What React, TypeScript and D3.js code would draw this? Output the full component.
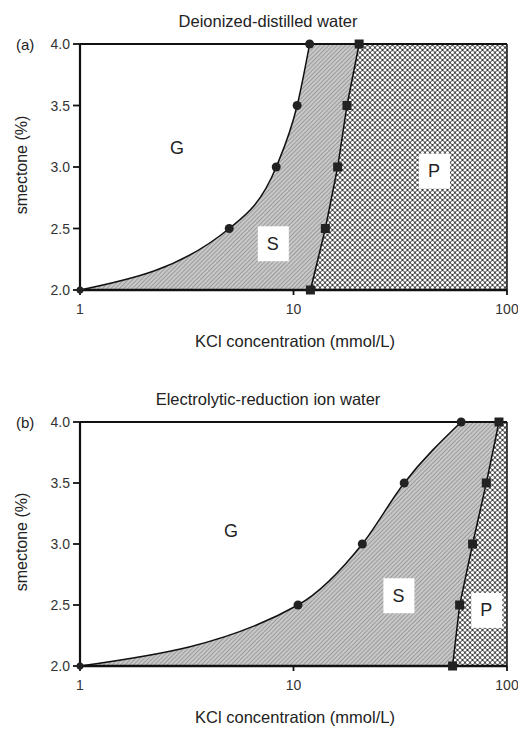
import React from "react";
import * as d3 from "d3";

const yLevels = [2.0, 2.5, 3.0, 3.5, 4.0];
const yTicks = [2.0, 2.5, 3.0, 3.5, 4.0];
const xTicks = [1, 10, 100];

// panel (a) Deionized-distilled water
const aGS = [1, 5.0, 8.3, 10.4, 11.9];
const aSP = [12.0, 14.1, 16.1, 17.8, 20.3];
// panel (b) Electrolytic-reduction ion water
const bGS = [1, 10.5, 21, 33, 61];
const bSP = [55.6, 60, 69, 80, 91.7];

const panelTitles = ["Deionized-distilled water", "Electrolytic-reduction ion water"];
const panelTags = ["(a)", "(b)"];
const xTitle = "KCl concentration (mmol/L)";
const yTitle = "smectone (%)";

const FONT = "Liberation Sans, Arial, sans-serif";

type PanelProps = {
  idx: number;
  top: number;
  bottom: number;
  gs: number[];
  sp: number[];
  gPos: [number, number];
  sPos: [number, number];
  pPos: [number, number];
};

function Panel({ idx, top, bottom, gs, sp, gPos, sPos, pPos }: PanelProps) {
  const x = d3.scaleLog().domain([1, 100]).range([80, 507]);
  const y = d3.scaleLinear().domain([2, 4]).range([bottom, top]);
  const gsPts: [number, number][] = gs.map((v, i) => [x(v), y(yLevels[i])]);
  const spPts: [number, number][] = sp.map((v, i) => [x(v), y(yLevels[i])]);
  const curve = d3.line().curve(d3.curveMonotoneX)(gsPts) as string;
  const spRev = [...spPts].reverse();
  const sPath = curve + spRev.map((p) => `L${p[0]},${p[1]}`).join("") + "Z";
  const pPath = d3.line()(spPts) + `L${x(100)},${y(4)}L${x(100)},${y(2)}Z`;
  const spLine = d3.line()(spPts) as string;
  const box = (c: [number, number], label: string, bg: boolean) => (
    <g>
      {bg && <rect x={x(c[0]) - 15} y={y(c[1]) - 17} width={31} height={35} fill="#fff" />}
      <text x={x(c[0])} y={y(c[1]) + 6.5} textAnchor="middle" fontSize={18} fill="#222">
        {label}
      </text>
    </g>
  );
  return (
    <g fontFamily={FONT}>
      <text x={268} y={top - 17} textAnchor="middle" fontSize={16.5} fill="#222">
        {panelTitles[idx]}
      </text>
      <path d={sPath} fill={`url(#hatch)`} />
      <path d={pPath} fill={`url(#cross)`} />
      <path d={curve} fill="none" stroke="#111" strokeWidth={1.5} />
      <path d={spLine} fill="none" stroke="#111" strokeWidth={1.5} />
      {box(gPos, "G", false)}
      {box(sPos, "S", true)}
      {box(pPos, "P", true)}
      <line x1={x(1)} x2={x(100)} y1={y(4)} y2={y(4)} stroke="#111" strokeWidth={1.8} />
      <line x1={x(100)} x2={x(100)} y1={y(4)} y2={y(2)} stroke="#111" strokeWidth={1.5} />
      <line x1={x(1)} x2={x(100)} y1={y(2)} y2={y(2)} stroke="#111" strokeWidth={2.5} />
      <line x1={x(1)} x2={x(1)} y1={y(4)} y2={y(2)} stroke="#111" strokeWidth={2.2} />
      {yTicks.map((t) => (
        <g key={t}>
          <line x1={x(1) - 7} x2={x(1)} y1={y(t)} y2={y(t)} stroke="#111" strokeWidth={1.8} />
          <text x={x(1) - 10} y={y(t) + 5} textAnchor="end" fontSize={14} fill="#333">
            {t.toFixed(1)}
          </text>
        </g>
      ))}
      {xTicks.map((t) => (
        <g key={t}>
          <line x1={x(t)} x2={x(t)} y1={y(2)} y2={y(2) + 5} stroke="#111" strokeWidth={1.8} />
          <text x={x(t)} y={y(2) + 24} textAnchor="middle" fontSize={14} fill="#333">
            {t}
          </text>
        </g>
      ))}
      <text x={16} y={y(4) + 5.5} fontSize={15} fill="#222">
        {panelTags[idx]}
      </text>
      <text
        transform={`translate(27,${(y(2) + y(4)) / 2 - 2}) rotate(-90)`}
        textAnchor="middle"
        fontSize={16}
        fill="#222"
      >
        {yTitle}
      </text>
      <text x={295} y={y(2) + 57} textAnchor="middle" fontSize={16.5} fill="#222">
        {xTitle}
      </text>
      {gsPts.map((p, i) => (
        <circle key={"c" + i} cx={p[0]} cy={p[1]} r={i === 0 ? 3.5 : 4.5} fill="#222" />
      ))}
      {spPts.map((p, i) => (
        <rect key={"s" + i} x={p[0] - 4.5} y={p[1] - 4.5} width={9} height={9} fill="#222" />
      ))}
    </g>
  );
}

export default function App() {
  return (
    <svg
      width={518}
      height={733}
      style={{ display: "block", position: "absolute", left: 0, top: 0, background: "#fff" }}
    >
      <defs>
        <pattern id="hatch" width={3} height={3} patternUnits="userSpaceOnUse" patternTransform="rotate(45)">
          <rect width={3} height={3} fill="#c8c8c8" />
          <line x1={0} y1={0} x2={0} y2={3} stroke="#707070" strokeWidth={1} />
        </pattern>
        <pattern id="cross" width={5} height={5} patternUnits="userSpaceOnUse">
          <rect width={5} height={5} fill="#3a3a3a" />
          <circle cx={0} cy={0} r={1.6} fill="#fff" />
          <circle cx={5} cy={0} r={1.6} fill="#fff" />
          <circle cx={0} cy={5} r={1.6} fill="#fff" />
          <circle cx={5} cy={5} r={1.6} fill="#fff" />
          <circle cx={2.5} cy={2.5} r={1.6} fill="#fff" />
        </pattern>
      </defs>
      <Panel idx={0} top={44} bottom={290} gs={aGS} sp={aSP} gPos={[2.85, 3.16]} sPos={[8.0, 2.38]} pPos={[45.5, 2.97]} />
      <Panel idx={1} top={422} bottom={666} gs={bGS} sp={bSP} gPos={[5.1, 3.11]} sPos={[31, 2.58]} pPos={[80, 2.46]} />
    </svg>
  );
}
